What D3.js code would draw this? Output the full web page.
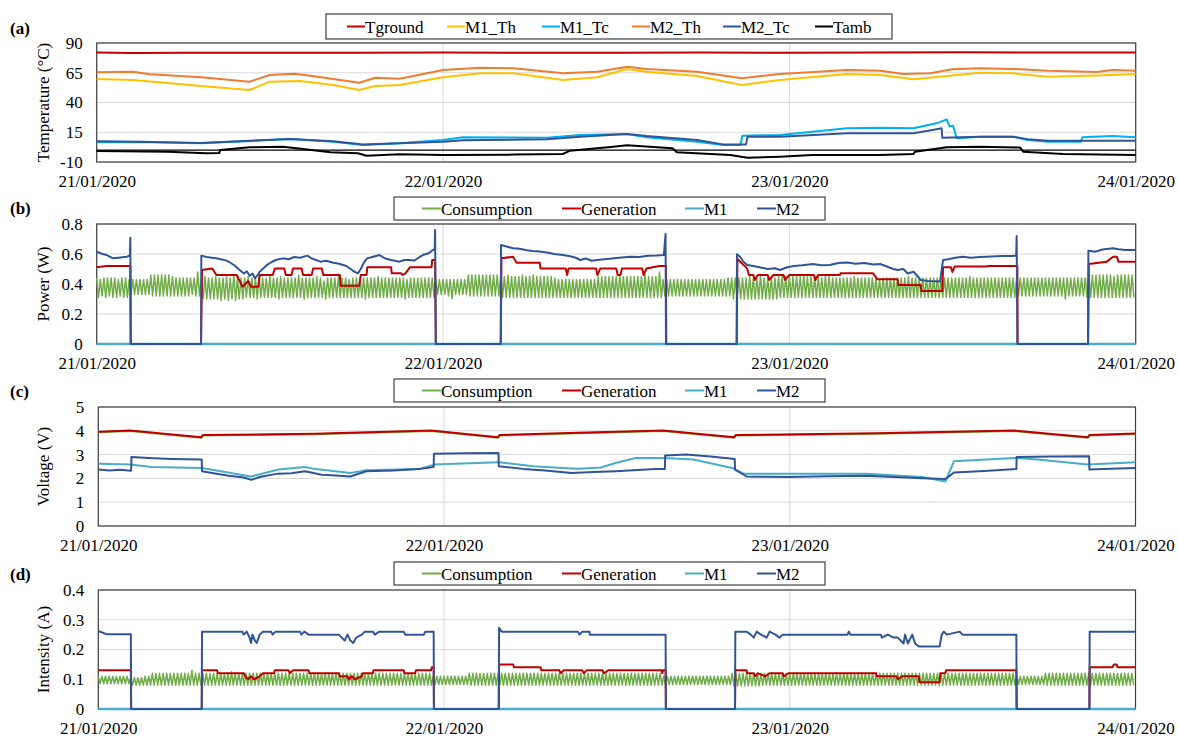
<!DOCTYPE html>
<html><head><meta charset="utf-8">
<script src="https://cdn.jsdelivr.net/npm/d3@7"></script>
</head><body style="margin:0;background:#fff">
<svg id="chart" width="1178" height="738" font-family="Liberation Serif"></svg>
<script>
// ---------------- DATA (time in hours since 21/01/2020 00:00) ----------------
const dayLabels = ["21/01/2020","22/01/2020","23/01/2020","24/01/2020"];
const dayHours = [0,24,48,72];

// (a) Temperature (°C)
const tempTicks = [-10,15,40,65,90];
const tGround = [[0,82],[2.5,81.7],[6,81.9],[12,81.8],[18,81.9],[24,82],[30,81.8],[36,81.9],[42,82.1],[48,81.8],[54,82],[60,82.2],[66,82],[72,82]];
const m1Th = [[0,59.7],[2.5,58.9],[4.9,56.3],[7.2,53.9],[10.6,50.5],[12,57.5],[14.1,58.1],[16.4,54.7],[18.2,50.5],[19.3,53.9],[21,54.7],[24,61.2],[26.6,64.5],[28.9,64.5],[32.3,58.9],[34.7,61.2],[36.75,68.2],[38.1,65.9],[41.6,62.3],[44.7,54.7],[47.35,58.9],[52,63.9],[54.3,63.1],[56.6,59.5],[58.9,62.3],[61.2,65.0],[63.5,64.5],[65.9,61.7],[69.3,62.6],[72,63.9]];
const m1Tc = [[0,6.5],[3,6.8],[7.2,5.7],[13.4,9.3],[16.4,7.1],[18.45,4.3],[21,5.7],[24,8.5],[25.4,10.8],[31.2,10.4],[33.5,12.7],[36.75,13.5],[38.1,10.8],[41.6,7.1],[43.4,4.3],[44.6,4.3],[44.75,12.1],[47.35,12.7],[52,18.3],[54.3,18.8],[56.6,18.3],[58.2,22.5],[58.9,25.8],[59.1,19.9],[59.34,20.4],[59.6,9.9],[61.2,11.3],[63.5,11.3],[64.5,8.5],[65.9,7.1],[68.2,7.1],[68.3,10.8],[70.4,11.8],[72,10.8]];
const m2Th = [[0,65.4],[2.5,65.9],[3.7,63.7],[7.2,61.2],[10.6,57.5],[12,63.1],[13.7,64.2],[14.8,62.4],[16.5,59.5],[18.2,56.6],[19.3,60.8],[21,60],[24,67.3],[26.6,69.2],[28.9,68.7],[32.3,64.5],[34.7,65.9],[36.75,70.1],[38.1,68.2],[41.6,65.9],[44.7,60.3],[47.35,63.9],[52,67.3],[54.3,66.7],[55.9,63.9],[57.75,64.5],[59.3,67.9],[61.2,68.7],[63.5,68.2],[65.9,66.7],[69.3,65.6],[70.4,67.3],[72,66.7]];
const m2Tc = [[0,7.5],[3,7],[7.2,6],[13.4,9.3],[16.4,7.5],[18.45,4.8],[21,5.7],[24,7.1],[25.4,8.2],[31.2,9.1],[33.5,11.3],[36.75,13.5],[38.1,11.8],[41.6,8.5],[43.4,4.8],[45.0,4.8],[45.1,11.3],[47.35,11.3],[52,14.1],[56.6,14.1],[58.2,17.5],[58.55,18.3],[58.6,10.4],[61.2,11.3],[63.5,11.3],[64.5,9.1],[65.9,7.8],[72,7.8]];
const tAmb = [[0,-0.8],[4.9,-1.4],[7.6,-2.7],[8.5,-2.5],[8.55,0.1],[10.6,2.3],[12.9,2.9],[14.3,0.9],[16.2,-1.8],[18.1,-2.7],[18.7,-4.7],[21,-3.5],[24,-4.1],[28.9,-3.8],[32.3,-3.3],[32.8,-0.5],[35.8,2.9],[36.75,4.0],[39.9,1.5],[40.2,-1.8],[43.9,-4.1],[45.1,-6.4],[47.35,-5.5],[49.6,-4.1],[54.3,-4.1],[56.6,-3.3],[56.7,-1.4],[58.9,2.3],[61.2,2.9],[64.0,2.1],[64.2,-1.4],[66.97,-3.3],[72,-4.1]];

// (b) Power (W)
const powerTicks = [0,0.2,0.4,0.6,0.8];
const consPowerHi = [ // peaks, one every 15 min
.44,.43,.44,.44,.44,.44,.43,.44, .44,.43,.43,.43,.43,.43,.43,.46, .46,.46,.46,.46,.46,.45,.44,.44, .44,.44,.44,.44,.48,.44,.45,.44,
.44,.45,.44,.44,.45,.44,.46,.44, .44,.44,.45,.44,.44,.46,.44,.44, .45,.44,.44,.45,.44,.44,.44,.44, .46,.44,.44,.44,.44,.45,.44,.42,
.44,.44,.44,.45,.44,.44,.43,.44, .44,.44,.44,.44,.44,.44,.45,.44, .44,.44,.44,.44,.44,.44,.43,.44, .44,.44,.44,.44,.44,.44,.43,.43,
.43,.43,.43,.43,.43,.43,.43,.46, .46,.46,.46,.46,.46,.46,.46,.46, .46,.45,.46,.45,.45,.45,.46,.45, .45,.46,.45,.45,.45,.45,.45,.44,
.43,.43,.43,.43,.43,.43,.43,.43, .43,.43,.43,.45,.45,.45,.45,.45, .45,.46,.45,.45,.45,.45,.45,.45, .46,.45,.45,.45,.48,.43,.43,.43,
.43,.43,.43,.43,.43,.43,.43,.43, .43,.43,.43,.43,.43,.43,.43,.44, .44,.44,.44,.44,.44,.45,.44,.44, .46,.44,.44,.44,.44,.45,.45,.45,
.45,.45,.45,.45,.46,.45,.45,.45, .45,.44,.45,.45,.44,.44,.44,.44, .44,.44,.45,.44,.44,.44,.44,.44, .44,.43,.44,.44,.44,.44,.44,.44,
.44,.45,.44,.44,.44,.44,.44,.44, .44,.44,.44,.44,.44,.44,.44,.44, .44,.44,.45,.44,.44,.44,.44,.44, .44,.44,.44,.44,.44,.44,.44,.44,
.44,.44,.44,.44,.44,.44,.44,.44, .44,.44,.44,.44,.44,.44,.44,.44, .44,.44,.44,.46,.46,.46,.46,.46, .46,.46,.45,.46,.46,.46,.46,.46];
const consPowerLo = [ // troughs, 7.5 min after each peak
.31,.32,.31,.32,.31,.31,.32,.31, .31,.33,.33,.33,.33,.33,.33,.32, .32,.32,.32,.32,.32,.32,.32,.32, .32,.32,.33,.32,.32,.30,.30,.30,
.30,.30,.29,.30,.29,.30,.29,.30, .30,.31,.31,.31,.30,.31,.31,.31, .31,.31,.30,.31,.31,.31,.31,.31, .31,.30,.31,.31,.31,.31,.31,.30,
.31,.31,.31,.31,.31,.31,.31,.31, .31,.31,.30,.31,.31,.31,.31,.31, .31,.31,.31,.31,.31,.30,.31,.31, .31,.31,.31,.31,.31,.31,.33,.33,
.33,.32,.30,.33,.33,.33,.33,.32, .32,.32,.32,.32,.32,.32,.32,.32, .31,.31,.31,.31,.31,.31,.31,.31, .31,.31,.31,.31,.31,.31,.31,.31,
.31,.31,.31,.31,.31,.31,.31,.31, .31,.31,.31,.31,.31,.31,.31,.31, .31,.31,.31,.31,.31,.31,.31,.31, .31,.31,.31,.31,.31,.32,.32,.32,
.32,.32,.32,.32,.32,.32,.32,.32, .32,.32,.32,.32,.32,.32,.32,.32, .30,.30,.30,.30,.30,.30,.30,.30, .30,.30,.30,.30,.30,.31,.31,.31,
.31,.31,.31,.31,.31,.31,.31,.31, .31,.31,.31,.31,.31,.31,.31,.31, .31,.31,.31,.31,.31,.31,.31,.31, .31,.31,.31,.31,.31,.31,.31,.31,
.31,.31,.31,.31,.31,.31,.31,.31, .31,.31,.31,.31,.31,.31,.31,.31, .31,.31,.31,.31,.31,.31,.31,.31, .31,.31,.31,.31,.31,.31,.31,.32,
.32,.32,.32,.32,.32,.32,.32,.32, .32,.32,.32,.32,.30,.32,.32,.32, .32,.32,.31,.31,.31,.31,.31,.31, .31,.31,.31,.31,.31,.31,.31,.31];
const genPower = [[0,.511],[0.7,.52],[2.33,.52],[2.36,0],[7.23,0],[7.3,.493],[8.0,.504],[8.3,.46],[9.7,.46],[9.9,.422],[10.1,.382],[10.5,.42],[10.7,.382],[11.2,.382],[11.3,.46],[12.2,.46],[12.35,.504],[13.0,.504],[13.1,.46],[13.5,.46],[13.6,.504],[14.2,.504],[14.3,.46],[14.9,.46],[15.0,.504],[15.6,.504],[15.7,.46],[16.85,.46],[16.9,.389],[18.2,.389],[18.3,.46],[18.7,.46],[18.75,.511],[20.4,.511],[20.45,.471],[21.1,.471],[21.2,.46],[21.4,.471],[21.7,.511],[23.2,.511],[23.25,.56],[23.45,.56],[23.5,0],[28.0,0],[28.05,.571],[28.85,.582],[29.1,.542],[30.7,.542],[30.75,.504],[32.5,.504],[32.6,.46],[32.7,.504],[34.6,.504],[34.7,.46],[34.9,.504],[36.0,.504],[36.1,.46],[36.3,.46],[36.4,.504],[37.8,.504],[37.9,.46],[38.1,.504],[39.0,.52],[39.45,.52],[39.47,0],[44.35,0],[44.4,.567],[45.07,.504],[45.2,.46],[45.5,.46],[45.6,.427],[45.8,.46],[46.5,.46],[46.6,.427],[46.9,.46],[47.6,.46],[47.7,.427],[48.0,.46],[49.7,.46],[49.8,.427],[50.0,.46],[51.5,.46],[51.55,.471],[53.8,.471],[54.1,.431],[55.5,.431],[55.55,.393],[57.1,.393],[57.15,.353],[58.6,.353],[58.65,.511],[59.2,.511],[59.3,.48],[59.45,.516],[61.7,.516],[61.75,.52],[63.8,.52],[63.82,0],[68.7,0],[68.75,.533],[70.0,.549],[70.43,.582],[70.7,.582],[70.8,.549],[72,.549]];
const m1Power = [[0,0],[72,0]];
const m2Power = [[0,.615],[0.4,.6],[0.7,.593],[1.13,.571],[1.5,.575],[2.1,.582],[2.3,.59],[2.33,.709],[2.36,0],[7.23,0],[7.25,.589],[7.6,.58],[8.0,.575],[8.3,.571],[8.6,.565],[9.0,.556],[9.3,.54],[9.6,.52],[9.9,.493],[10.2,.47],[10.4,.485],[10.6,.455],[10.8,.47],[10.97,.438],[11.15,.46],[11.3,.482],[11.5,.5],[11.8,.527],[12.1,.545],[12.4,.56],[12.9,.571],[13.3,.565],[13.7,.58],[14.1,.575],[14.6,.589],[14.9,.57],[15.2,.56],[15.5,.549],[15.9,.555],[16.4,.542],[16.8,.535],[17.3,.52],[17.6,.5],[17.8,.485],[18.1,.471],[18.3,.5],[18.5,.54],[18.73,.571],[19.1,.58],[19.6,.593],[20.0,.57],[20.4,.56],[21.0,.549],[21.3,.56],[21.6,.56],[22.0,.556],[22.3,.575],[22.6,.593],[23.0,.605],[23.3,.627],[23.42,.63],[23.45,.76],[23.5,0],[28.0,0],[28.02,.66],[28.4,.65],[28.85,.638],[29.3,.635],[29.8,.625],[30.2,.62],[30.7,.616],[31.2,.61],[31.7,.6],[32.3,.593],[32.8,.585],[33.2,.575],[33.5,.56],[33.9,.57],[34.3,.555],[34.67,.56],[35.2,.565],[35.7,.57],[36.2,.575],[37.0,.582],[37.6,.58],[38.2,.588],[38.8,.59],[39.3,.593],[39.42,.733],[39.45,0],[44.35,0],[44.37,.598],[44.6,.58],[44.8,.55],[45.07,.527],[45.5,.52],[46.0,.51],[46.5,.5],[47.0,.505],[47.35,.493],[47.8,.51],[48.3,.52],[48.9,.525],[49.64,.533],[50.2,.525],[50.8,.527],[51.4,.54],[52.0,.544],[52.6,.535],[53.2,.54],[53.8,.53],[54.3,.533],[54.8,.515],[55.2,.5],[55.5,.493],[55.9,.5],[56.2,.47],[56.6,.482],[56.9,.45],[57.1,.427],[57.6,.42],[58.0,.418],[58.44,.416],[58.65,.56],[59.0,.565],[59.5,.575],[60.0,.582],[60.6,.575],[61.2,.58],[62.0,.583],[62.8,.587],[63.5,.587],[63.72,.59],[63.75,.72],[63.8,0],[68.7,0],[68.72,.622],[69.2,.615],[69.7,.63],[70.43,.638],[70.8,.632],[71.3,.627],[72,.627]];

// (c) Voltage (V)
const voltTicks = [0,1,2,3,4,5];
const consVolt = [[0,3.94],[2.2,3.99],[7.15,3.71],[7.25,3.8],[15,3.86],[23.1,3.99],[27.75,3.71],[27.85,3.8],[33.3,3.9],[39.2,3.99],[44.15,3.71],[44.25,3.8],[54,3.88],[63.6,3.99],[68.7,3.71],[68.8,3.8],[72,3.87]];
const genVolt = [[0,3.96],[2.2,4.01],[7.15,3.73],[7.25,3.82],[15,3.88],[23.1,4.01],[27.75,3.73],[27.85,3.82],[33.3,3.92],[39.2,4.01],[44.15,3.73],[44.25,3.82],[54,3.9],[63.6,4.01],[68.7,3.73],[68.8,3.82],[72,3.89]];
const m1Volt = [[0,2.62],[2.2,2.58],[3.7,2.48],[7.2,2.44],[10.6,2.08],[12.5,2.37],[14.35,2.48],[15.1,2.39],[17.5,2.23],[18.6,2.34],[22.25,2.39],[23.3,2.58],[27.8,2.68],[30.2,2.51],[32.85,2.42],[33.3,2.41],[34.9,2.46],[35.9,2.65],[37.3,2.86],[39.2,2.86],[41.3,2.79],[44.0,2.44],[44.8,2.2],[47.9,2.2],[53.3,2.2],[57.2,2.06],[58.8,1.87],[59.4,2.72],[63.6,2.86],[65.2,2.79],[68.7,2.58],[72,2.68]];
const m2Volt = [[0,2.37],[0.8,2.33],[1.5,2.36],[2.28,2.32],[2.3,2.9],[3.5,2.86],[5.08,2.82],[7.18,2.79],[7.2,2.3],[8.0,2.22],[9.05,2.11],[10.0,2.05],[10.63,1.94],[11.2,2.06],[12.47,2.2],[13.4,2.22],[14.35,2.3],[15.5,2.15],[16.5,2.12],[17.5,2.08],[18.6,2.3],[20.5,2.33],[22.25,2.39],[23.28,2.48],[23.3,3.04],[25.5,3.06],[27.78,3.07],[27.8,2.51],[29.5,2.4],[31.0,2.33],[32.85,2.23],[34.4,2.27],[35.9,2.3],[38.7,2.39],[39.33,2.4],[39.35,2.96],[40.8,3.0],[42.5,2.92],[44.18,2.82],[44.2,2.37],[45.0,2.08],[46.5,2.07],[47.9,2.06],[50.5,2.09],[53.3,2.11],[55.3,2.06],[57.2,2.01],[58.8,1.97],[59.4,2.25],[61.5,2.31],[63.73,2.39],[63.75,2.9],[66.3,2.92],[68.78,2.93],[68.8,2.37],[70.3,2.41],[72,2.44]];

// (d) Intensity (A)
const currTicks = [0,0.1,0.2,0.3,0.4];
const consCurrHi = [
.11,.11,.11,.11,.11,.11,.11,.11, .11,.105,.105,.105,.105,.11,.11,.12, .12,.12,.12,.12,.12,.12,.12,.12, .12,.12,.13,.12,.12,.12,.12,.12,
.12,.12,.12,.12,.12,.125,.12,.12, .12,.12,.12,.12,.12,.12,.12,.12, .12,.12,.12,.12,.12,.12,.12,.12, .12,.12,.12,.12,.12,.12,.12,.12,
.12,.12,.12,.12,.12,.12,.12,.12, .12,.12,.12,.12,.12,.12,.12,.12, .12,.12,.12,.12,.12,.12,.12,.12, .12,.12,.12,.12,.12,.11,.11,.11,
.11,.11,.11,.11,.11,.11,.11,.12, .12,.12,.12,.12,.12,.12,.12,.12, .12,.12,.12,.12,.12,.12,.12,.12, .12,.12,.12,.12,.12,.12,.12,.12,
.12,.12,.12,.12,.12,.12,.12,.12, .12,.12,.12,.12,.12,.12,.12,.12, .12,.12,.12,.12,.12,.12,.12,.12, .12,.12,.12,.12,.12,.11,.11,.11,
.11,.11,.11,.11,.11,.11,.11,.11, .11,.11,.11,.11,.11,.11,.11,.11, .12,.12,.12,.12,.12,.12,.12,.12, .12,.12,.12,.12,.12,.12,.12,.12,
.12,.12,.12,.12,.12,.12,.12,.12, .12,.12,.12,.12,.12,.12,.12,.12, .12,.12,.12,.12,.12,.12,.12,.12, .12,.12,.12,.12,.12,.12,.12,.12,
.12,.12,.12,.12,.12,.12,.12,.12, .12,.12,.12,.12,.12,.12,.12,.12, .12,.12,.12,.12,.12,.12,.12,.12, .12,.12,.12,.12,.12,.12,.12,.11,
.11,.11,.11,.11,.11,.11,.11,.12, .12,.12,.12,.12,.12,.12,.12,.12, .12,.12,.12,.12,.12,.12,.12,.12, .12,.12,.12,.12,.12,.12,.12,.12];
const consCurrLo = [
.085,.085,.085,.085,.085,.085,.085,.085, .085,.08,.08,.08,.08,.08,.08,.08, .08,.08,.08,.08,.08,.08,.08,.08, .08,.08,.08,.08,.08,.08,.08,.08,
.08,.08,.08,.08,.08,.08,.08,.08, .08,.08,.08,.08,.08,.08,.08,.08, .08,.08,.08,.08,.08,.08,.08,.08, .08,.08,.08,.08,.08,.08,.08,.08,
.08,.08,.08,.08,.08,.08,.08,.08, .08,.08,.08,.08,.08,.08,.08,.08, .08,.08,.08,.08,.08,.08,.08,.08, .08,.08,.08,.08,.08,.082,.082,.082,
.082,.082,.082,.082,.082,.082,.082,.08, .08,.08,.08,.08,.08,.08,.08,.08, .08,.08,.08,.08,.08,.08,.08,.08, .08,.08,.08,.08,.08,.08,.08,.08,
.08,.08,.08,.08,.08,.08,.08,.08, .08,.08,.08,.08,.08,.08,.08,.08, .08,.08,.08,.08,.08,.08,.08,.08, .08,.08,.08,.08,.08,.082,.082,.082,
.082,.082,.082,.082,.082,.082,.082,.082, .082,.082,.082,.082,.082,.082,.082,.082, .078,.078,.078,.078,.078,.078,.078,.078, .08,.08,.08,.08,.08,.08,.08,.08,
.08,.08,.08,.08,.08,.08,.08,.08, .08,.08,.08,.08,.08,.08,.08,.08, .08,.08,.08,.08,.08,.08,.08,.08, .08,.08,.08,.08,.08,.08,.08,.08,
.08,.08,.08,.08,.08,.08,.08,.08, .08,.08,.08,.08,.08,.08,.08,.08, .08,.08,.08,.08,.08,.08,.08,.08, .08,.08,.08,.08,.08,.08,.08,.082,
.082,.082,.082,.082,.082,.082,.082,.08, .08,.08,.08,.08,.08,.08,.08,.08, .08,.08,.08,.08,.08,.08,.08,.08, .08,.08,.08,.08,.08,.08,.08,.08];
const genCurr = [[0,.13],[2.26,.13],[2.28,0],[7.18,0],[7.2,.13],[8.24,.13],[8.3,.12],[10.1,.12],[10.2,.11],[10.4,.10],[10.6,.11],[10.8,.10],[11.2,.11],[11.43,.12],[12.2,.12],[12.25,.13],[13.2,.13],[13.3,.12],[13.5,.13],[14.6,.13],[14.65,.12],[16.7,.12],[16.75,.11],[17.3,.11],[17.4,.10],[17.6,.11],[17.8,.10],[18.3,.11],[18.35,.12],[19.06,.12],[19.1,.13],[21.2,.13],[21.25,.12],[22.0,.12],[22.05,.13],[23.1,.13],[23.15,.14],[23.28,.14],[23.3,0],[27.8,0],[27.82,.15],[28.8,.15],[28.85,.14],[30.7,.14],[30.75,.13],[32.0,.13],[32.1,.12],[32.3,.13],[33.6,.13],[33.7,.12],[33.9,.13],[35.0,.13],[35.1,.12],[35.4,.13],[39.1,.13],[39.15,.12],[39.2,.13],[39.38,.13],[39.4,0],[44.2,0],[44.22,.13],[45.0,.13],[45.05,.12],[45.5,.12],[45.6,.11],[45.8,.12],[46.3,.11],[46.6,.12],[47.5,.12],[47.6,.11],[47.9,.12],[54.0,.12],[54.04,.11],[55.4,.11],[55.5,.10],[55.8,.11],[56.95,.11],[57.0,.09],[58.4,.09],[58.45,.12],[58.8,.12],[58.85,.13],[63.73,.13],[63.75,0],[68.8,0],[68.82,.14],[70.4,.14],[70.5,.15],[70.7,.15],[70.75,.14],[72,.14]];
const m1Curr = [[0,0],[72,0]];
const m2Curr = [[0,.262],[0.6,.251],[2.26,.251],[2.28,0],[7.18,0],[7.2,.26],[10.0,.26],[10.1,.25],[10.3,.26],[10.5,.24],[10.6,.222],[10.7,.25],[10.87,.23],[11.0,.222],[11.2,.25],[11.43,.26],[12.0,.26],[12.1,.25],[12.3,.26],[14.0,.26],[14.1,.25],[14.3,.26],[14.6,.25],[16.7,.25],[16.9,.24],[17.1,.23],[17.3,.25],[17.5,.23],[17.7,.222],[17.9,.24],[18.3,.25],[18.5,.26],[19.06,.26],[19.2,.25],[19.5,.26],[21.2,.26],[21.3,.25],[22.6,.25],[22.7,.26],[23.28,.26],[23.3,0],[27.8,0],[27.82,.273],[28.0,.26],[33.3,.26],[33.4,.25],[33.6,.26],[34.1,.26],[34.12,.25],[39.38,.25],[39.4,0],[44.2,0],[44.22,.26],[45.0,.26],[45.3,.25],[45.5,.24],[45.7,.26],[46.0,.25],[46.4,.24],[46.6,.26],[47.0,.25],[47.3,.24],[47.5,.25],[52.0,.25],[52.1,.26],[52.2,.25],[54.32,.25],[54.4,.24],[54.8,.25],[55.2,.24],[55.5,.24],[55.9,.22],[56.0,.25],[56.2,.22],[56.5,.25],[56.7,.22],[56.95,.21],[58.4,.21],[58.55,.25],[58.7,.26],[58.9,.25],[59.8,.26],[60.0,.25],[63.73,.25],[63.75,0],[68.8,0],[68.82,.26],[72,.26]];

// ---------------- RENDER ----------------
const FONT = "Liberation Serif";
const svg = d3.select('#chart');
const T0 = Date.UTC(2020,0,21);
const toDate = h => new Date(T0 + h*3600000);
const cycleStep = 0.25; // consumption samples: peak every 15 min, trough 7.5 min later
function interleave(hi, lo){
  const out = [];
  hi.forEach((v,i)=>{ out.push([i*cycleStep, v]); out.push([i*cycleStep + cycleStep/2, lo[i]]); });
  return out;
}
const C = {green:'#70AD47', red:'#C00000', aqua:'#4BACC6', navy:'#2F5597', gold:'#FFC000', sky:'#00B0F0', orange:'#ED7D31', black:'#000000'};
const pwrLegend = [['Consumption',422],['Generation',562],['M1',685],['M2',757]];

const panels = [
 {label:'(a)', labelY:34, left:96.7, right:1135.7, top:43, bottom:162, domain:[-10,90], ticks:tempTicks, title:'Temperature (°C)', zero:true,
  legend:{x0:326,x1:892,y0:14,y1:39,len:18, items:[['Tground',347],['M1_Th',447],['M1_Tc',542],['M2_Th',632],['M2_Tc',723],['Tamb',815]]},
  series:[{d:tGround,c:C.red,w:2},{d:m1Th,c:C.gold,w:2},{d:m1Tc,c:C.sky,w:2},{d:m2Th,c:C.orange,w:2},{d:m2Tc,c:C.navy,w:2},{d:tAmb,c:C.black,w:2}]},
 {label:'(b)', labelY:214, left:96.7, right:1135.7, top:224, bottom:344, domain:[0,0.8], ticks:powerTicks, title:'Power (W)',
  legend:{x0:394,x1:825,y0:197,y1:220,len:19, items:pwrLegend},
  series:[{d:interleave(consPowerHi,consPowerLo),c:C.green,w:1.5},{d:genPower,c:C.red,w:2},{d:m1Power,c:C.aqua,w:2.5},{d:m2Power,c:C.navy,w:2}]},
 {label:'(c)', labelY:397, left:98.3, right:1135.5, top:407, bottom:526, domain:[0,5], ticks:voltTicks, title:'Voltage (V)',
  legend:{x0:394,x1:825,y0:379,y1:402,len:19, items:pwrLegend},
  series:[{d:consVolt,c:C.green,w:2},{d:genVolt,c:C.red,w:2},{d:m1Volt,c:C.aqua,w:2},{d:m2Volt,c:C.navy,w:2}]},
 {label:'(d)', labelY:580, left:98.3, right:1135.5, top:590, bottom:709, domain:[0,0.4], ticks:currTicks, title:'Intensity (A)',
  legend:{x0:394,x1:825,y0:562,y1:585,len:19, items:pwrLegend},
  series:[{d:interleave(consCurrHi,consCurrLo),c:C.green,w:1.5},{d:genCurr,c:C.red,w:2},{d:m1Curr,c:C.aqua,w:2.5},{d:m2Curr,c:C.navy,w:2}]}
];

panels.forEach(p=>{
  const g = svg.append('g');
  const x = d3.scaleUtc().domain([toDate(0), toDate(72)]).range([p.left, p.right]);
  const y = d3.scaleLinear().domain(p.domain).range([p.bottom, p.top]);
  g.append('g').selectAll('line').data(p.ticks).join('line')
    .attr('x1',p.left).attr('x2',p.right).attr('y1',d=>y(d)).attr('y2',d=>y(d))
    .attr('stroke','#D9D9D9').attr('stroke-width',1);
  g.append('g').selectAll('line').data(dayHours).join('line')
    .attr('x1',d=>x(toDate(d))).attr('x2',d=>x(toDate(d))).attr('y1',p.top).attr('y2',p.bottom)
    .attr('stroke','#D9D9D9').attr('stroke-width',1);
  g.append('rect').attr('x',p.left).attr('y',p.top).attr('width',p.right-p.left).attr('height',p.bottom-p.top)
    .attr('fill','none').attr('stroke','#404040').attr('stroke-width',1.2);
  if(p.zero){
    g.append('line').attr('x1',p.left).attr('x2',p.right).attr('y1',y(0)).attr('y2',y(0)).attr('stroke','#000').attr('stroke-width',1.2);
  }
  const ya = g.append('g').attr('transform',`translate(${p.left},0)`)
    .call(d3.axisLeft(y).tickValues(p.ticks).tickSize(0).tickPadding(14).tickFormat(d=>String(d)));
  ya.attr('font-family',FONT).attr('font-size',17);
  ya.select('.domain').remove();
  ya.selectAll('text').attr('font-family',FONT).attr('font-size',17).attr('fill','#000');
  const xa = g.append('g').attr('transform',`translate(0,${p.bottom})`)
    .call(d3.axisBottom(x).tickValues(dayHours.map(toDate)).tickSize(0).tickPadding(13).tickFormat((d,i)=>dayLabels[i]));
  xa.attr('font-family',FONT).attr('font-size',17);
  xa.select('.domain').remove();
  xa.selectAll('text').attr('font-family',FONT).attr('font-size',17).attr('fill','#000');
  g.append('text').attr('transform',`translate(49,${(p.top+p.bottom)/2}) rotate(-90)`)
    .attr('text-anchor','middle').attr('font-family',FONT).attr('font-size',17).text(p.title);
  g.append('text').attr('x',10).attr('y',p.labelY).attr('font-family',FONT).attr('font-size',17).attr('font-weight','bold').text(p.label);
  const line = d3.line().x(d=>x(toDate(d[0]))).y(d=>y(d[1]));
  g.append('g').selectAll('path').data(p.series).join('path')
    .attr('d',s=>line(s.d)).attr('fill','none').attr('stroke',s=>s.c).attr('stroke-width',s=>s.w)
    .attr('stroke-linejoin','round');
  const L = p.legend, cy = (L.y0+L.y1)/2;
  const lg = g.append('g');
  lg.append('rect').attr('x',L.x0).attr('y',L.y0).attr('width',L.x1-L.x0).attr('height',L.y1-L.y0)
    .attr('fill','#fff').attr('stroke','#404040').attr('stroke-width',1.2);
  L.items.forEach((it,i)=>{
    lg.append('line').attr('x1',it[1]).attr('x2',it[1]+L.len).attr('y1',cy).attr('y2',cy)
      .attr('stroke',p.series[i].c).attr('stroke-width',2);
    lg.append('text').attr('x',it[1]+L.len).attr('y',cy+6).attr('font-family',FONT).attr('font-size',17).text(it[0]);
  });
});
</script></body></html>
